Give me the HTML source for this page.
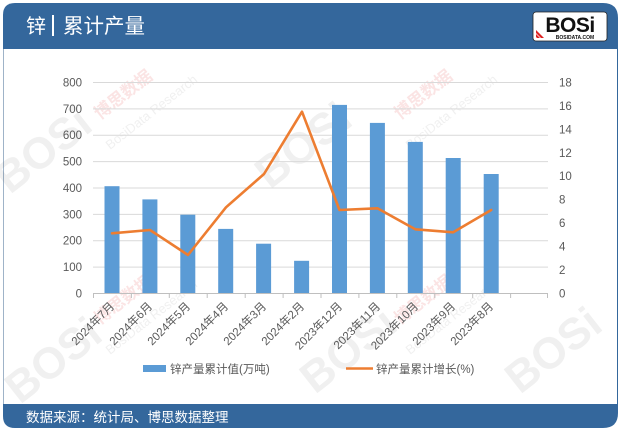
<!DOCTYPE html>
<html><head><meta charset="utf-8"><style>
html,body{margin:0;padding:0;background:#fff;}
body{width:622px;height:432px;overflow:hidden;position:relative;font-family:"Liberation Sans","Noto Sans CJK SC",sans-serif;}
</style></head><body>
<svg width="622" height="432" viewBox="0 0 622 432" xmlns="http://www.w3.org/2000/svg" style="position:absolute;left:0;top:0">
<!-- frame -->
<path d="M15,3 H603 Q618,3 618,18 V49 H3 V15 Q3,3 15,3 Z" fill="#34679c"/>
<rect x="3" y="49" width="615" height="356" fill="#fff"/>
<line x1="3.5" y1="49" x2="3.5" y2="405" stroke="#9fb3c8" stroke-width="1"/>
<line x1="617.5" y1="49" x2="617.5" y2="405" stroke="#34679c" stroke-width="1"/>
<path d="M3,404 H618 V413 Q618,428 603,428 H15 Q3,428 3,416 Z" fill="#34679c"/>

<!-- title -->
<text x="26" y="33" font-size="20" fill="#fff" font-family="Liberation Sans,Noto Sans CJK SC,sans-serif">锌</text>
<rect x="52" y="15" width="2" height="21" fill="#fff"/>
<text x="63" y="33" font-size="20.5" fill="#fff" font-family="Liberation Sans,Noto Sans CJK SC,sans-serif">累计产量</text>

<!-- logo -->
<rect x="533" y="12" width="74" height="29" rx="3" fill="#fff" stroke="#222" stroke-width="0.8"/>
<text x="570" y="32" font-size="21" font-weight="bold" fill="#111" text-anchor="middle" font-family="Liberation Sans,sans-serif" letter-spacing="-0.5">BOSi</text>
<path d="M536,30 L544,38 L541,38 L536,33 Z M536,34 L540,38 L537,38 L536,37Z" fill="#d22"/>
<text x="575" y="39" font-size="5" fill="#111" text-anchor="middle" font-family="Liberation Sans,sans-serif" font-weight="bold">BOSIDATA.COM</text>

<!-- watermarks -->
<g opacity="0.09" font-family="Liberation Sans,sans-serif" font-weight="bold" fill="#555">
<text x="0" y="0" font-size="44" transform="translate(10,195) rotate(-38)">BOSi</text>
<text x="0" y="0" font-size="44" transform="translate(270,190) rotate(-38)">BOSi</text>
<text x="0" y="0" font-size="44" transform="translate(315,395) rotate(-38)">BOSi</text>
<text x="0" y="0" font-size="44" transform="translate(520,395) rotate(-38)">BOSi</text>
<text x="0" y="0" font-size="44" transform="translate(20,405) rotate(-38)">BOSi</text>
<text x="0" y="0" font-size="13" font-weight="normal" transform="translate(110,150) rotate(-38)">BosiData Research</text>
<text x="0" y="0" font-size="13" font-weight="normal" transform="translate(410,150) rotate(-38)">BosiData Research</text>
<text x="0" y="0" font-size="13" font-weight="normal" transform="translate(110,355) rotate(-38)">BosiData Research</text>
<text x="0" y="0" font-size="13" font-weight="normal" transform="translate(410,355) rotate(-38)">BosiData Research</text>
</g>
<g opacity="0.13" font-family="Noto Sans CJK SC,sans-serif" font-weight="bold" fill="#d33">
<text x="0" y="0" font-size="17" transform="translate(100,120) rotate(-38)">博思数据</text>
<text x="0" y="0" font-size="17" transform="translate(400,120) rotate(-38)">博思数据</text>
<text x="0" y="0" font-size="17" transform="translate(100,325) rotate(-38)">博思数据</text>
<text x="0" y="0" font-size="17" transform="translate(400,325) rotate(-38)">博思数据</text>
</g>

<!-- gridlines -->
<g stroke="#d9d9d9" stroke-width="1">
<line x1="93" y1="82.5" x2="548" y2="82.5"/>
<line x1="93" y1="108.9" x2="548" y2="108.9"/>
<line x1="93" y1="135.2" x2="548" y2="135.2"/>
<line x1="93" y1="161.6" x2="548" y2="161.6"/>
<line x1="93" y1="188" x2="548" y2="188"/>
<line x1="93" y1="214.4" x2="548" y2="214.4"/>
<line x1="93" y1="240.7" x2="548" y2="240.7"/>
<line x1="93" y1="267.1" x2="548" y2="267.1"/>
</g>

<!-- bars -->
<g fill="#5b9bd5">
<rect x="104.5" y="186.2" width="15" height="106.8"/>
<rect x="142.4" y="199.4" width="15" height="93.6"/>
<rect x="180.3" y="214.7" width="15" height="78.3"/>
<rect x="218.2" y="228.9" width="15" height="64.1"/>
<rect x="256.1" y="243.7" width="15" height="49.3"/>
<rect x="294.1" y="260.8" width="15" height="32.2"/>
<rect x="332" y="104.9" width="15" height="188.1"/>
<rect x="369.9" y="122.9" width="15" height="170.1"/>
<rect x="407.8" y="141.9" width="15" height="151.1"/>
<rect x="445.7" y="158" width="15" height="135"/>
<rect x="483.7" y="174" width="15" height="119"/>
</g>

<!-- axis -->
<g stroke="#bfbfbf" stroke-width="1">
<line x1="93" y1="293.5" x2="548" y2="293.5"/>
<line x1="93.5" y1="293" x2="93.5" y2="298"/>
<line x1="131.4" y1="293" x2="131.4" y2="298"/>
<line x1="169.3" y1="293" x2="169.3" y2="298"/>
<line x1="207.2" y1="293" x2="207.2" y2="298"/>
<line x1="245.2" y1="293" x2="245.2" y2="298"/>
<line x1="283.1" y1="293" x2="283.1" y2="298"/>
<line x1="321" y1="293" x2="321" y2="298"/>
<line x1="358.9" y1="293" x2="358.9" y2="298"/>
<line x1="396.8" y1="293" x2="396.8" y2="298"/>
<line x1="434.8" y1="293" x2="434.8" y2="298"/>
<line x1="472.7" y1="293" x2="472.7" y2="298"/>
<line x1="510.6" y1="293" x2="510.6" y2="298"/>
<line x1="547.5" y1="293" x2="547.5" y2="298"/>
</g>

<!-- line -->
<polyline fill="none" stroke="#ed7d31" stroke-width="2.6" stroke-linejoin="round" stroke-linecap="round"
points="112,233.3 150,230 188,255 226,207.3 264,174 302,111.7 339.5,210 377.4,208.3 415.3,229.3 453.2,232.3 491.2,210"/>

<!-- left axis labels -->
<g font-size="11.5" fill="#595959" text-anchor="end" font-family="Liberation Sans,sans-serif">
<text x="82" y="86.5">800</text>
<text x="82" y="112.9">700</text>
<text x="82" y="139.2">600</text>
<text x="82" y="165.6">500</text>
<text x="82" y="192">400</text>
<text x="82" y="218.4">300</text>
<text x="82" y="244.7">200</text>
<text x="82" y="271.1">100</text>
<text x="82" y="297.5">0</text>
</g>
<!-- right axis labels -->
<g font-size="11.5" fill="#595959" font-family="Liberation Sans,sans-serif">
<text x="559" y="86.5">18</text>
<text x="559" y="109.9">16</text>
<text x="559" y="133.4">14</text>
<text x="559" y="156.8">12</text>
<text x="559" y="180.2">10</text>
<text x="559" y="203.7">8</text>
<text x="559" y="227.1">6</text>
<text x="559" y="250.6">4</text>
<text x="559" y="274">2</text>
<text x="559" y="297.5">0</text>
</g>

<!-- x labels -->
<g font-size="11.5" fill="#595959" text-anchor="end" font-family="Liberation Sans,Noto Sans CJK SC,sans-serif">
<text transform="translate(115,307) rotate(-45)">2024年7月</text>
<text transform="translate(153,307) rotate(-45)">2024年6月</text>
<text transform="translate(191,307) rotate(-45)">2024年5月</text>
<text transform="translate(229,307) rotate(-45)">2024年4月</text>
<text transform="translate(267,307) rotate(-45)">2024年3月</text>
<text transform="translate(305,307) rotate(-45)">2024年2月</text>
<text transform="translate(343,307) rotate(-45)">2023年12月</text>
<text transform="translate(381,307) rotate(-45)">2023年11月</text>
<text transform="translate(419,307) rotate(-45)">2023年10月</text>
<text transform="translate(456,307) rotate(-45)">2023年9月</text>
<text transform="translate(494,307) rotate(-45)">2023年8月</text>
</g>

<!-- legend -->
<rect x="143" y="365" width="23" height="7" fill="#5b9bd5"/>
<text x="170" y="373" font-size="11.5" fill="#595959" font-family="Liberation Sans,Noto Sans CJK SC,sans-serif">锌产量累计值(万吨)</text>
<line x1="346" y1="368.5" x2="373" y2="368.5" stroke="#ed7d31" stroke-width="2.6"/>
<text x="376" y="373" font-size="11.5" fill="#595959" font-family="Liberation Sans,Noto Sans CJK SC,sans-serif">锌产量累计增长(%)</text>

<!-- footer -->
<text x="26" y="422" font-size="13.5" fill="#fff" font-family="Liberation Sans,Noto Sans CJK SC,sans-serif">数据来源：统计局、博思数据整理</text>
</svg>
</body></html>
